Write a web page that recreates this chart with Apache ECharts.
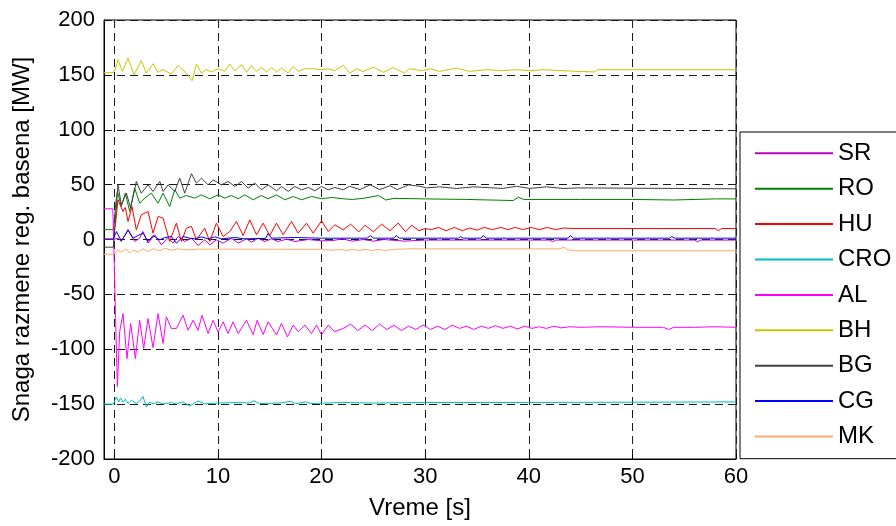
<!DOCTYPE html>
<html>
<head>
<meta charset="utf-8">
<script src="https://cdn.jsdelivr.net/npm/echarts@6/dist/echarts.min.js"></script>
<style>html,body{margin:0;padding:0;background:#fff}#c{width:896px;height:526px}</style>
</head>
<body>
<div id="c"></div>
<script>
const names = ['SR','RO','HU','CRO','AL','BH','BG','CG','MK'];
const colors = ['#c000c0','#008000','#ff0000','#00bfbf','#ff00ff','#c8c800','#404040','#0000ff','#ffaa66'];
const xTicks = [0,10,20,30,40,50,60];

const SR = [[-1,0],[-0.1,0],[0.35,1.2],[0.67,-1.8],[1.32,8.8],[1.96,-1.8],[2.44,1.2],[2.76,7.3],[3.25,-3.3],[3.89,4.3],[4.54,-4.9],[5.18,1.8],[5.66,-3.3],[6.15,2.7],[6.79,-1.8],[7.44,1.2],[8.08,-5.5],[8.72,-0.3],[9.21,-4.9],[9.85,-0.3],[10.5,-3.3],[11.3,1.2],[11.95,-3.3],[12.75,0.6],[13.24,-2.4],[13.88,1.2],[14.52,-1.8],[15.17,0.6],[15.81,-1.8],[16.61,0.3],[17.42,-1.8],[18.71,0],[20,-1.2],[21,-1],[22,0.5],[23,-1.5],[24,0],[25,-1.5],[26,0],[28,-1.5],[30,-0.5],[42,-0.5],[42.3,-2],[42.6,-0.5],[56,-0.5],[56.3,-2],[56.6,-0.5],[60,-0.5]];
const RO = [[-1,9],[-0.1,9],[0.19,37.7],[0.29,43.8],[0.67,30.1],[1.06,42.2],[1.48,25.5],[1.96,46.8],[2.44,33.1],[2.93,37.7],[3.57,42.2],[4.22,33.1],[4.7,42.2],[5.34,30.1],[5.83,45.3],[6.31,37.7],[6.95,40.1],[7.76,37.7],[8.4,40.7],[9.21,37.1],[10.01,40.7],[10.66,37.7],[11.3,40.1],[11.95,37.1],[12.59,40.7],[13.4,36.2],[14.2,40.1],[14.84,37.1],[15.65,40.7],[16.45,36.2],[17.26,39.2],[18.07,36.2],[19.03,39.2],[20,37.1],[20.96,38.3],[22.09,37.1],[23,36.5],[24,37.5],[25.5,40],[26.2,36],[27,37.5],[30,37],[34,36.5],[38.5,35.5],[39,38.5],[39.5,36.5],[45,36.5],[50,36.5],[54,36],[58,37],[60,37]];
const HU = [[-1,0],[-0.1,0],[0.13,16.4],[0.35,36.2],[0.83,25.5],[1.06,29.2],[1.32,16.4],[1.7,30.1],[2.12,8.8],[2.6,22.5],[3.25,25.5],[3.73,5.8],[4.22,21],[4.7,19.5],[5.34,-1.8],[5.99,14.9],[6.47,-1.8],[6.95,10.3],[7.44,11.9],[7.92,-0.3],[8.72,10.3],[9.21,-1.8],[9.85,14.9],[10.5,2.7],[11.14,7.3],[11.78,16.4],[12.43,3.6],[13.07,17.9],[13.72,4.3],[14.36,14.9],[15,3.6],[15.65,14.9],[16.29,4.3],[17.1,16.4],[17.74,5.8],[18.55,14.9],[19.19,5.8],[20,17],[20.64,7.3],[21.28,13.4],[22.09,8.8],[22.8,14],[23.6,7],[24.2,13],[25,7],[25.8,14],[26.6,8],[27.4,15],[28.1,7],[28.7,13],[29.4,8],[30,10],[30.6,9],[31.3,11],[32,8],[32.8,11],[33.6,8],[34.3,10.5],[35,8.5],[35.7,11],[36.5,9],[37.3,11],[38,9],[38.7,11],[39.4,9],[40.2,11],[41,9],[41.8,11],[42.6,9],[43.4,10.5],[44.3,10],[58,10],[58.3,8],[58.6,10],[60,10]];
const CRO = [[-1,-150],[-0.1,-150],[0.19,-143.5],[0.42,-148],[0.6,-144.4],[0.83,-148],[1.06,-145.6],[1.32,-149.5],[1.64,-146.5],[2.12,-149.5],[2.44,-147.4],[2.76,-142.9],[3.09,-152.6],[3.41,-148],[3.73,-149.8],[4.22,-148],[4.7,-149.8],[5.5,-148.6],[6,-149.8],[6.63,-148],[7.28,-151.7],[8.08,-147],[8.72,-149.8],[10,-149],[12,-148.5],[13,-149],[13.5,-147],[14,-149.5],[16,-149],[17,-147.5],[17.5,-149.5],[18.5,-148],[19,-149.5],[22,-148.5],[25,-149],[30,-148.5],[40,-148.5],[60,-148]];
const AL = [[-1,28],[-0.15,28],[0.29,-134],[0.51,-84],[0.83,-67.5],[1.22,-108.5],[1.57,-76.6],[2.03,-108.5],[2.44,-73.6],[2.83,-99.4],[3.25,-72],[3.73,-98.5],[4.22,-67.5],[4.7,-94.8],[5.02,-70.5],[5.5,-81],[5.99,-81],[6.63,-69],[7.11,-82.7],[7.6,-73.6],[8.08,-82.7],[8.46,-69],[9.05,-85.7],[9.53,-73.6],[10.01,-84.2],[10.5,-75],[10.98,-85.7],[11.46,-75],[11.95,-85.7],[12.75,-73.6],[13.4,-86.6],[13.78,-73.6],[14.36,-86.6],[14.84,-75],[15.65,-87],[16.13,-76.6],[16.71,-88.8],[17.26,-78],[17.74,-84],[18.39,-78],[19.03,-85.7],[19.51,-78],[20,-87],[20.64,-78],[21.28,-84],[22.09,-81],[22.8,-77],[23.5,-83],[24.2,-78],[24.9,-83],[25.6,-77],[26.3,-82],[27,-78],[27.7,-83],[28.4,-79],[29.1,-82],[29.8,-78],[30.5,-82],[31.2,-79],[31.9,-82],[32.6,-78],[33.3,-81],[34,-79],[34.7,-82],[35.4,-79],[36.1,-81],[36.8,-78.5],[37.5,-81],[38.2,-79],[38.9,-81.5],[39.6,-79],[40.3,-81],[41,-79.5],[41.7,-81],[42.4,-79],[43.1,-80.5],[44,-79.5],[45,-80],[47,-79.5],[50,-80],[53,-80],[53.5,-82],[54,-80],[56,-80],[58,-79.5],[60,-80]];
const BH = [[-1,152],[-0.1,152],[0.1,155],[0.35,163.8],[0.77,153.2],[1.32,165.3],[1.9,150.2],[2.6,162.9],[3.09,151.6],[3.73,160.2],[4.22,152.3],[4.7,154.7],[5.5,150.8],[6.15,158.4],[6.95,151.6],[7.5,144.7],[7.92,159.9],[8.4,151.6],[8.88,154.7],[9.37,152.6],[10.01,155.6],[10.66,153.2],[11.14,159.9],[11.63,153.8],[12.27,159.3],[12.75,152.3],[13.24,158.4],[13.72,153.2],[14.2,156.8],[14.69,152.6],[15.17,156.8],[15.65,152.6],[16.13,156.2],[16.78,151.6],[17.26,157.7],[17.74,153.2],[18.39,155.6],[19.35,155.6],[20,154.7],[20.64,155.6],[21.28,153.8],[22.09,158.7],[22.73,151.6],[23.4,155.6],[24,153],[25,157],[26,152.3],[26.9,156.8],[28,151.6],[28.5,155.6],[29.7,153.8],[30.5,155.6],[31.4,153.2],[33,156.2],[34.3,153.2],[35.9,154.7],[37.5,153.8],[38.8,154.7],[40.1,153.8],[41.4,154.7],[43.3,153.8],[46.4,152.6],[46.6,154.7],[60,154.7]];
const BG = [[-1,-7],[-0.1,-7],[0.35,49.8],[0.67,31.6],[1.16,42.2],[1.57,28.6],[2.12,52.9],[2.6,42.2],[3.25,49.8],[3.73,43.8],[4.38,52.9],[4.7,43.8],[5.18,49.8],[5.83,43.8],[6.31,55.9],[6.79,42.2],[7.44,59.9],[7.92,51.4],[8.4,55.9],[9.05,49.8],[9.53,54.4],[10.33,49.8],[10.98,52.9],[11.63,48.3],[12.27,52.9],[12.91,46.8],[13.56,51.4],[14.2,45.3],[14.84,49.8],[15.65,44.4],[16.13,48.3],[16.78,43.8],[17.42,48.3],[18.07,45.3],[18.71,47.4],[19.35,44.4],[20,48.3],[20.64,45.3],[21.28,47.4],[22.09,45.3],[22.7,48.5],[23.7,45.5],[24.7,49.8],[25.6,45.5],[26.6,49],[27.3,45.5],[28.4,49.8],[29.5,48.5],[30.1,47],[31.4,48],[33,46.5],[34.7,48],[37.5,46.5],[38.8,48.5],[40.1,46.5],[41.7,48],[43.3,46.5],[44.8,47],[60,46.2]];
const CG = [[-1,0.5],[-0.1,0.5],[0.1,4.9],[0.19,7.3],[0.67,-1.2],[1.16,5.8],[1.32,8.8],[1.8,1.2],[2.28,3.6],[2.76,5.8],[3.25,-1.8],[3.73,3.6],[4.38,-0.3],[4.86,1.8],[5.5,2.7],[5.99,-3.3],[6.63,2.7],[7.28,1.2],[7.76,0.6],[8.4,2.4],[9.05,0.6],[9.69,2.4],[10.33,0.6],[11.63,1.8],[12.59,0.6],[14.6,1],[14.84,5.5],[15.17,1.2],[17.42,1.8],[20,1.2],[24.4,1.2],[24.7,3.6],[25,1.2],[27,1.2],[27.2,3.6],[27.5,1.2],[33.2,1.2],[33.4,2.7],[33.7,1.2],[35.4,1.2],[35.6,3.6],[35.9,1.2],[43.8,1.2],[44,3.6],[44.3,1.2],[53.6,1.2],[53.8,2.7],[54.1,1.2],[60,1.2]];
const MK = [[-1,-13.5],[-0.1,-13.5],[0.1,-12.5],[0.29,-9.4],[0.67,-11.6],[1.16,-8.5],[1.48,-12.5],[1.8,-9.4],[2.28,-11.6],[2.76,-8.5],[3.25,-10.9],[3.73,-8.5],[4.38,-10.3],[4.86,-7.9],[5.5,-9.7],[6.2,-8.5],[7,-9.5],[8,-8.8],[12,-8.8],[20,-9],[21,-9.8],[21.8,-9],[22.4,-10],[23,-9],[23.6,-10],[24.2,-9],[24.9,-10],[25.5,-9],[26.2,-10],[27,-9],[28.5,-8.5],[43,-8.5],[43.4,-7],[43.8,-9.5],[44.5,-10.3],[60,-10.3]];

const seriesData = [SR, RO, HU, CRO, AL, BH, BG, CG, MK];
const FONT = 'Arial, "Liberation Sans", sans-serif';
const gridLine = {show: true, lineStyle: {color: '#1a1a1a', width: 1, type: [8, 5]}};

const chart = echarts.init(document.getElementById('c'), null, {renderer: 'canvas'});
chart.setOption({
  animation: false,
  backgroundColor: '#fff',
  grid: {left: 104, right: 160, top: 20, bottom: 67, show: true, borderColor: '#000', borderWidth: 1, containLabel: false, outerBoundsMode: 'none'},
  legend: {
    orient: 'vertical', left: 740, top: 132,
    icon: 'rect', itemWidth: 78, itemHeight: 2, itemGap: 11.4,
    padding: [9.3, 20, 10.2, 15],
    borderColor: '#000', borderWidth: 1,
    selectedMode: false,
    textStyle: {fontSize: 24, fontFamily: FONT, color: '#000', lineHeight: 24},
    data: names
  },
  xAxis: {
    type: 'value', min: -1, max: 60,
    name: 'Vreme [s]', nameLocation: 'middle', nameGap: 37,
    nameTextStyle: {fontSize: 24, fontFamily: FONT, color: '#000'},
    axisLine: {show: true, onZero: false, lineStyle: {color: '#000', width: 1}},
    axisTick: {show: true, inside: true, length: 5, lineStyle: {color: '#000'}, customValues: xTicks},
    axisLabel: {fontSize: 22, fontFamily: FONT, color: '#000', margin: 7, customValues: xTicks},
    splitLine: gridLine
  },
  yAxis: {
    type: 'value', min: -200, max: 200, interval: 50,
    name: 'Snaga razmene reg. basena [MW]', nameLocation: 'middle', nameGap: 70,
    nameTextStyle: {fontSize: 24, fontFamily: FONT, color: '#000'},
    axisLine: {show: true, onZero: false, lineStyle: {color: '#000', width: 1}},
    axisTick: {show: true, inside: true, length: 5, lineStyle: {color: '#000'}},
    axisLabel: {fontSize: 22, fontFamily: FONT, color: '#000', margin: 9},
    splitLine: gridLine
  },
  series: names.map((n, i) => ({
    name: n, type: 'line', data: seriesData[i], showSymbol: false, symbol: 'none',
    lineStyle: {color: colors[i], width: 1}, itemStyle: {color: colors[i]},
    emphasis: {disabled: true}
  }))
});
</script>
</body>
</html>
